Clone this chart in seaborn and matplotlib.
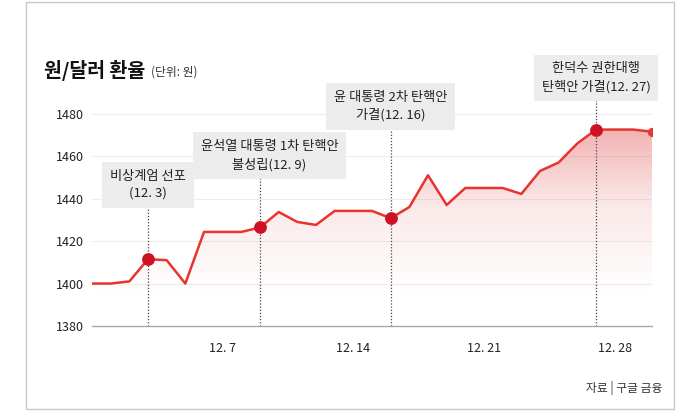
import numpy as np
import pandas as pd
import seaborn as sns
import matplotlib.pyplot as plt
import matplotlib.dates as mdates
from matplotlib.colors import LinearSegmentedColormap
from matplotlib.patches import Rectangle

# 원/달러 환율 (2024.11.30 ~ 12.30, daily)
dates = pd.date_range("2024-11-30", "2024-12-30", freq="D")
rates = [1400.0, 1400.0, 1401.0, 1411.5, 1411.0, 1400.0, 1424.3, 1424.3,
         1424.3, 1426.4, 1433.7, 1429.0, 1427.6, 1434.2, 1434.2, 1434.2,
         1430.8, 1436.0, 1451.0, 1437.0, 1445.0, 1445.0, 1445.0, 1442.2,
         1453.0, 1457.0, 1466.0, 1472.5, 1472.5, 1472.5, 1471.5]

event_dates = ["2024-12-03", "2024-12-09", "2024-12-16", "2024-12-27"]
event_labels = ["비상계엄 선포\n(12. 3)",
                "윤석열 대통령 1차 탄핵안\n불성립(12. 9)",
                "윤 대통령 2차 탄핵안\n가결(12. 16)",
                "한덕수 권한대행\n탄핵안 가결(12. 27)"]
box_y = [1446.5, 1460.2, 1483.3, 1496.9]
box_shift = [0.0, 0.5, 0.0, 0.0]   # days, box offset from the dot

yticks = [1380, 1400, 1420, 1440, 1460, 1480]
xtick_dates = ["2024-12-07", "2024-12-14", "2024-12-21", "2024-12-28"]
xtick_labels = ["12. 7", "12. 14", "12. 21", "12. 28"]

df = pd.DataFrame({"date": dates, "rate": rates})
df["x"] = mdates.date2num(df["date"])

sns.set_theme(style="white")
plt.rcParams["font.family"] = ["Noto Sans CJK KR", "DejaVu Sans"]

fig = plt.figure(figsize=(7, 4.12), dpi=100)
ax = fig.add_axes([92 / 700, 1 - 326 / 412, 560 / 700, 254.8 / 412])

LINE = "#e8342c"
DOT = "#cf1126"

# gradient fill under the line
poly = ax.fill_between(df["x"], df["rate"], 1380, facecolor="none", edgecolor="none")
cmap = LinearSegmentedColormap.from_list(
    "fade", [(0.89, 0.33, 0.33, 0.0), (0.89, 0.33, 0.33, 0.13), (0.89, 0.33, 0.33, 0.5)])
grad = np.linspace(0, 1, 256).reshape(-1, 1)
im = ax.imshow(grad, cmap=cmap, aspect="auto", origin="lower",
               extent=[df["x"].min(), df["x"].max(), 1395, 1478], zorder=1)
im.set_clip_path(poly.get_paths()[0], transform=ax.transData)

sns.lineplot(data=df, x="x", y="rate", color=LINE, lw=1.8, ax=ax, zorder=3)

ev = df[df["date"].isin(pd.to_datetime(event_dates))]
ax.scatter(ev["x"], ev["rate"], s=85, color=DOT, zorder=5, linewidths=0)
last = df.iloc[[-1]]
ax.scatter(last["x"], last["rate"], s=45, color="#e5392e", zorder=5, linewidths=0)

# annotation boxes + dotted guides
for d, lab, by, sh in zip(event_dates, event_labels, box_y, box_shift):
    xd = mdates.date2num(pd.Timestamp(d))
    ax.plot([xd, xd], [1380, by - 10.5], ls=(0, (1, 1.5)), color="#444444",
            lw=0.9, zorder=2, clip_on=False)
    ax.text(xd + sh, by, lab, ha="center", va="center", fontsize=9.5,
            color="#222222", linespacing=1.4, zorder=6, clip_on=False,
            bbox=dict(boxstyle="square,pad=0.6", fc="#ececec", ec="none"))

ax.set_xlim(df["x"].min(), df["x"].max())
ax.set_ylim(1380, 1500)
ax.set_yticks(yticks)
ax.set_yticklabels([str(v) for v in yticks], fontsize=9, color="#222222")
for v in yticks[1:]:
    ax.axhline(v, color="#ededed", lw=0.8, zorder=0)

ax.set_xticks(mdates.date2num(pd.to_datetime(xtick_dates)))
ax.set_xticklabels(xtick_labels, fontsize=9, color="#222222")
ax.tick_params(axis="x", direction="out", length=3.5, width=1, color="#444444", pad=8)
ax.tick_params(axis="y", length=0, pad=6)
ax.set_xlabel("")
ax.set_ylabel("")
for s in ["top", "right", "left"]:
    ax.spines[s].set_visible(False)
ax.spines["bottom"].set_color("#a8a8b0")
ax.spines["bottom"].set_linewidth(1)

# title, unit, source
fig.text(44 / 700, 1 - 70 / 412, "원/달러 환율", fontsize=14, fontweight="bold",
         color="#111111", va="center")
fig.text(151 / 700, 1 - 72 / 412, "(단위: 원)", fontsize=8.5, color="#333333", va="center")
fig.text(662 / 700, 1 - 388 / 412, "자료 | 구글 금융", fontsize=8.5, color="#333333",
         ha="right", va="center")

fig.patches.append(Rectangle((26 / 700, 3 / 412), 648 / 700, 407 / 412,
                             transform=fig.transFigure, fill=False,
                             ec="#c8c8c8", lw=1))

fig.savefig("out.png", dpi=100)
